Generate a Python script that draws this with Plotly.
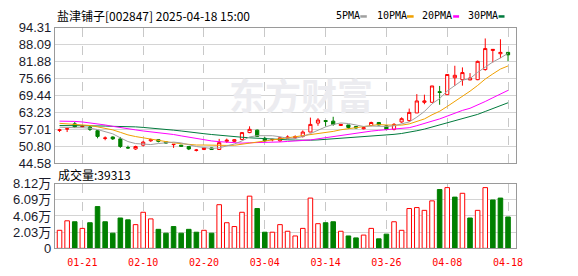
import plotly.graph_objects as go

W, H = 578, 276

dates = ["2025-01-16", "2025-01-17", "2025-01-20", "2025-01-21", "2025-01-22", "2025-01-23", "2025-01-24", "2025-01-27",
         "2025-02-05", "2025-02-06", "2025-02-07", "2025-02-10", "2025-02-11", "2025-02-12", "2025-02-13", "2025-02-14",
         "2025-02-17", "2025-02-18", "2025-02-19", "2025-02-20", "2025-02-21", "2025-02-24", "2025-02-25", "2025-02-26",
         "2025-02-27", "2025-02-28", "2025-03-03", "2025-03-04", "2025-03-05", "2025-03-06", "2025-03-07", "2025-03-10",
         "2025-03-11", "2025-03-12", "2025-03-13", "2025-03-14", "2025-03-17", "2025-03-18", "2025-03-19", "2025-03-20",
         "2025-03-21", "2025-03-24", "2025-03-25", "2025-03-26", "2025-03-27", "2025-03-28", "2025-03-31", "2025-04-01",
         "2025-04-02", "2025-04-03", "2025-04-07", "2025-04-08", "2025-04-09", "2025-04-10", "2025-04-11", "2025-04-14",
         "2025-04-15", "2025-04-16", "2025-04-17", "2025-04-18"]

opens = [56.6, 57.1, 59.0, 57.9, 57.8, 56.5, 53.7, 54.2, 53.5, 50.3,
         49.8, 51.2, 52.8, 53.2, 52.4, 51.4, 51.2, 50.7, 49.3, 49.6,
         50.2, 49.6, 52.6, 52.6, 53.3, 55.8, 56.7, 53.7, 53.2, 52.8,
         53.7, 53.9, 54.4, 56.0, 59.3, 60.2, 60.0, 58.4, 58.6, 58.0,
         57.2, 58.4, 59.5, 58.3, 57.0, 59.7, 60.2, 63.0, 66.9, 66.9,
         70.8, 69.7, 75.9, 75.2, 75.1, 75.2, 78.9, 85.9, 84.7, 85.2]
closes = [56.8, 57.2, 57.9, 58.1, 57.0, 54.4, 53.8, 53.5, 50.7, 50.2,
          50.7, 52.3, 53.2, 52.6, 52.0, 51.5, 50.8, 49.8, 49.4, 50.2,
          49.6, 52.1, 53.0, 53.2, 55.8, 57.0, 54.4, 52.8, 53.3, 53.9,
          54.2, 54.3, 56.0, 58.8, 60.4, 59.9, 58.8, 58.8, 57.7, 57.5,
          57.6, 59.5, 58.6, 57.0, 58.8, 60.9, 63.2, 67.4, 67.4, 72.9,
          70.5, 77.1, 76.8, 77.8, 75.8, 81.9, 86.6, 86.3, 85.2, 84.3]
highs = [57.2, 57.7, 59.7, 58.4, 58.4, 56.7, 54.4, 54.4, 54.2, 51.0,
         51.0, 52.8, 53.6, 53.3, 52.5, 51.6, 51.3, 50.8, 49.8, 50.5,
         50.3, 53.5, 53.6, 53.4, 56.0, 58.1, 56.9, 54.2, 53.5, 54.2,
         54.8, 54.8, 56.6, 61.3, 61.1, 60.2, 61.6, 59.0, 58.6, 58.2,
         58.1, 59.8, 59.7, 58.4, 59.3, 61.4, 64.6, 69.9, 69.7, 72.9,
         72.9, 77.1, 80.3, 79.7, 77.6, 82.2, 90.3, 86.3, 90.0, 85.2]
lows = [56.0, 56.0, 57.6, 57.7, 56.4, 53.7, 53.0, 53.1, 50.2, 49.8,
        49.5, 50.7, 52.4, 52.2, 51.8, 50.2, 50.6, 49.4, 48.9, 49.4,
        49.5, 49.5, 52.0, 52.3, 53.0, 55.6, 54.2, 52.4, 52.6, 52.4,
        53.4, 53.5, 54.0, 56.0, 58.3, 58.1, 58.3, 58.3, 57.2, 57.3,
        57.0, 58.1, 58.4, 56.6, 56.6, 59.4, 59.7, 63.0, 66.2, 66.9,
        66.0, 69.7, 72.9, 73.0, 75.0, 75.0, 78.5, 81.5, 83.1, 82.0]

ma5 = [57.8, 57.6, 57.6, 57.6, 57.4, 56.92, 56.24, 55.36, 53.88, 52.52,
       51.78, 51.48, 51.42, 51.8, 52.16, 52.32, 52.02, 51.34, 50.7, 50.34,
       49.96, 50.22, 50.86, 51.62, 52.74, 54.22, 54.68, 54.64, 54.66, 54.28,
       53.72, 53.7, 54.34, 55.44, 56.74, 57.88, 58.78, 59.34, 59.12, 58.54,
       58.06, 58.22, 58.18, 58.04, 58.3, 58.96, 59.7, 61.46, 63.54, 66.36,
       68.28, 71.06, 72.94, 75.02, 75.6, 77.88, 79.78, 81.68, 83.16, 84.86]
ma10 = [59.2, 59.0, 58.9, 58.7, 58.4, 57.9, 57.4, 56.8, 55.9, 54.96,
        54.35, 53.86, 53.39, 52.84, 52.34, 52.05, 51.75, 51.38, 51.25, 51.25,
        51.14, 51.12, 51.1, 51.16, 51.54, 52.09, 52.45, 52.75, 53.14, 53.51,
        53.97, 54.19, 54.49, 55.05, 55.51, 55.8, 56.24, 56.84, 57.28, 57.64,
        57.98, 58.5, 58.76, 58.58, 58.44, 58.54, 58.98, 59.84, 60.81, 62.33,
        63.62, 65.38, 67.2, 69.28, 70.98, 73.08, 75.42, 77.31, 79.09, 80.23]
ma20 = [60.0, 60.0, 59.9, 59.7, 59.4, 59.0, 58.6, 58.1, 57.6, 57.1,
        56.8, 56.4, 56.1, 55.8, 55.5, 55.1, 54.6, 54.1, 53.6, 53.1,
        52.75, 52.49, 52.25, 52.0, 51.94, 52.07, 52.1, 52.07, 52.2, 52.38,
        52.56, 52.66, 52.8, 53.1, 53.53, 53.95, 54.35, 54.8, 55.21, 55.58,
        55.98, 56.35, 56.63, 56.82, 56.97, 57.16, 57.6, 58.33, 59.04, 60.0,
        60.81, 61.95, 62.99, 63.94, 64.71, 65.81, 67.2, 68.58, 69.95, 71.28]
ma30 = [58.4, 58.4, 58.4, 58.3, 58.3, 58.2, 58.2, 58.1, 58.1, 58.0,
        57.9, 57.7, 57.5, 57.3, 57.0, 56.7, 56.4, 56.0, 55.7, 55.4,
        55.1, 54.8, 54.5, 54.3, 54.1, 53.9, 53.7, 53.5, 53.35, 53.24,
        53.15, 53.06, 52.99, 53.02, 53.13, 53.31, 53.48, 53.66, 53.89, 54.13,
        54.36, 54.6, 54.78, 54.93, 55.16, 55.48, 55.89, 56.48, 57.08, 57.83,
        58.53, 59.36, 60.16, 60.98, 61.64, 62.47, 63.55, 64.66, 65.73, 66.74]

# volume in units of 万 (10,000 shares)
volume = [2.26, 3.45, 3.33, 2.50, 3.21, 5.23, 3.33, 1.90, 3.80, 3.57,
          2.97, 4.52, 3.69, 2.38, 1.90, 2.73, 1.90, 2.38, 2.02, 2.26,
          1.90, 5.47, 3.21, 2.73, 4.52, 6.54, 4.99, 2.02, 2.02, 2.97,
          2.14, 1.55, 2.50, 6.30, 3.09, 3.21, 3.33, 2.14, 1.55, 1.31,
          1.66, 2.50, 1.19, 1.78, 3.33, 2.26, 4.99, 5.11, 4.76, 5.95,
          7.37, 7.61, 6.42, 6.90, 3.80, 4.76, 7.61, 6.06, 6.30, 3.93]
vol_dir = "rrgrggggggrrrggggggrgrrrrrggrrrrrrrggrggrrggrrrrrrgrgrgrrggg"

price_ticks = [44.58, 50.80, 57.01, 63.23, 69.44, 75.66, 81.88, 88.09, 94.31]
vol_ticks = [0, 2.03, 4.06, 6.09, 8.12]
vol_ticktext = ["0", "2.03万", "4.06万", "6.09万", "8.12万"]
date_ticks = ["2025-01-21", "2025-02-10", "2025-02-20", "2025-03-04", "2025-03-14", "2025-03-26", "2025-04-08", "2025-04-18"]
date_ticktext = ["01-21", "02-10", "02-20", "03-04", "03-14", "03-26", "04-08", "04-18"]

title_text = "盐津铺子[002847] 2025-04-18 15:00"
vol_label = "成交量:39313"
ma_names = ["5PMA", "10PMA", "20PMA", "30PMA"]

RED = "#ff0000"
GREEN = "#008000"
MA_COLORS = ["#a0a0a0", "#f0a000", "#ff00ff", "#007a3d"]

# pixel layout helpers
def px(x):
    return x / W

def py(y):
    return 1 - y / H

X0, X1 = 55.5, 522.5
xdom = [px(X0), px(X1)]
ydom_price = [py(165.2), py(21.7)]
ydom_vol = [py(255.2), py(186.7)]
xrange_ = [-0.62, 60.07]

fig = go.Figure()

for series, color in zip([ma30, ma20, ma10, ma5], MA_COLORS[::-1]):
    fig.add_trace(go.Scatter(x=dates, y=series, mode="lines", line=dict(color=color, width=1),
                             xaxis="x", yaxis="y", hoverinfo="skip"))

fig.add_trace(go.Candlestick(
    x=dates, open=opens, high=highs, low=lows, close=closes,
    increasing=dict(line=dict(color=RED, width=1), fillcolor="white"),
    decreasing=dict(line=dict(color=GREEN, width=1), fillcolor=GREEN),
    whiskerwidth=0, xaxis="x", yaxis="y"))

fills = ["white" if d == "r" else GREEN for d in vol_dir]
lines = [RED if d == "r" else GREEN for d in vol_dir]
fig.add_trace(go.Bar(x=dates, y=volume, width=0.6,
                     marker=dict(color=fills, line=dict(color=lines, width=1)),
                     xaxis="x2", yaxis="y2"))

axis_common = dict(showline=True, mirror=True, linecolor="#9a9a9a", linewidth=1,
                   zeroline=False, ticks="", fixedrange=True)

fig.update_layout(
    width=W, height=H, margin=dict(l=0, r=0, t=0, b=0),
    paper_bgcolor="white", plot_bgcolor="white", showlegend=False,
    boxgap=0.4, bargap=0.4,
    xaxis=dict(domain=xdom, anchor="y", type="category", range=xrange_,
               tickvals=date_ticks, showticklabels=False,
               showgrid=True, gridcolor="#c8c8c8", griddash="dash", gridwidth=1,
               rangeslider=dict(visible=False), **axis_common),
    yaxis=dict(domain=ydom_price, anchor="x", range=[price_ticks[0], price_ticks[-1]],
               tickvals=price_ticks, ticktext=[f"{v:.2f}" for v in price_ticks],
               showgrid=True, gridcolor="#d4d4d4", gridwidth=1,
               tickfont=dict(family="Liberation Sans, Arial", size=13, color="#1a1a2a"),
               **axis_common),
    xaxis2=dict(domain=xdom, anchor="y2", type="category", range=xrange_,
                tickvals=date_ticks, ticktext=date_ticktext, ticklabelstandoff=5,
                tickfont=dict(family="DejaVu Sans Mono", size=10, color=RED),
                showgrid=True, gridcolor="#c8c8c8", griddash="dash", gridwidth=1,
                **axis_common),
    yaxis2=dict(domain=ydom_vol, anchor="x2", range=[vol_ticks[0], vol_ticks[-1]],
                tickvals=vol_ticks, ticktext=vol_ticktext,
                showgrid=True, gridcolor="#d4d4d4", gridwidth=1,
                tickfont=dict(family="Liberation Sans, Noto Sans CJK SC", size=13, color="#1a1a2a"),
                **axis_common),
)

annotations = [
    dict(x=px(56), y=py(8.5), xref="paper", yref="paper", xanchor="left", yanchor="middle",
         text=title_text, showarrow=False,
         font=dict(family="Noto Sans CJK SC", size=12, color="#000")),
    dict(x=px(56.5), y=py(177.5), xref="paper", yref="paper", xanchor="left", yanchor="middle",
         text=vol_label, showarrow=False,
         font=dict(family="Noto Sans CJK SC", size=12, color="#000")),
    dict(x=px(305), y=py(92), xref="paper", yref="paper", xanchor="center", yanchor="middle",
         text="<b>东方财富</b>", showarrow=False,
         font=dict(family="Noto Sans CJK SC", size=36, color="#ececf0")),
]

legend_x = [338.5, 379.5, 425.5, 471.5]
dash_x = [(364.7, 371.3), (412.0, 418.7), (458.7, 464.7), (504.7, 510.7)]
shapes = []
for name, lx, (d0, d1), color in zip(ma_names, legend_x, dash_x, MA_COLORS):
    annotations.append(dict(x=px(lx), y=py(9), xref="paper", yref="paper", xanchor="left",
                            yanchor="middle", text=name, showarrow=False,
                            font=dict(family="DejaVu Sans Mono", size=10, color="#000")))
    shapes.append(dict(type="line", xref="paper", yref="paper", x0=px(d0), x1=px(d1),
                       y0=py(10), y1=py(10), line=dict(color=color, width=2.5)))

fig.update_layout(annotations=annotations, shapes=shapes)

fig.write_html("out.html")
